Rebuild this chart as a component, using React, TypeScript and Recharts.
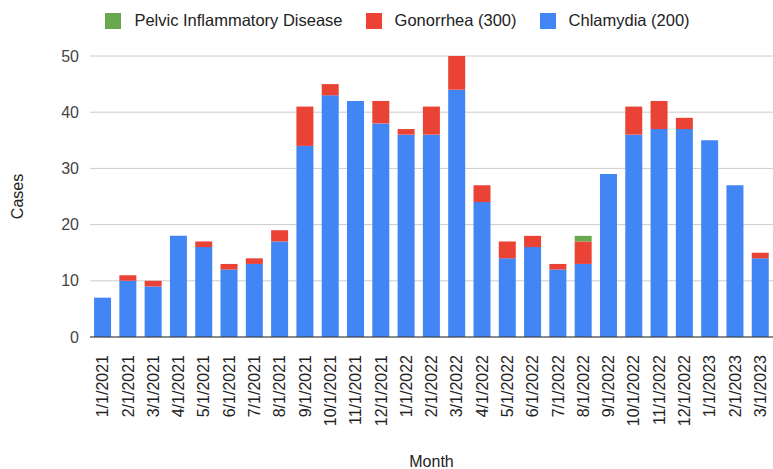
import { BarChart, Bar, XAxis, YAxis, CartesianGrid } from "recharts";

const months = [
  "1/1/2021", "2/1/2021", "3/1/2021", "4/1/2021", "5/1/2021", "6/1/2021", "7/1/2021",
  "8/1/2021", "9/1/2021", "10/1/2021", "11/1/2021", "12/1/2021", "1/1/2022", "2/1/2022",
  "3/1/2022", "4/1/2022", "5/1/2022", "6/1/2022", "7/1/2022", "8/1/2022", "9/1/2022",
  "10/1/2022", "11/1/2022", "12/1/2022", "1/1/2023", "2/1/2023", "3/1/2023",
];
const chlamydia = [7, 10, 9, 18, 16, 12, 13, 17, 34, 43, 42, 38, 36, 36, 44, 24, 14, 16, 12, 13, 29, 36, 37, 37, 35, 27, 14];
const gonorrhea = [0, 1, 1, 0, 1, 1, 1, 2, 7, 2, 0, 4, 1, 5, 6, 3, 3, 2, 1, 4, 0, 5, 5, 2, 0, 0, 1];
const pid = [0, 0, 0, 0, 0, 0, 0, 0, 0, 0, 0, 0, 0, 0, 0, 0, 0, 0, 0, 1, 0, 0, 0, 0, 0, 0, 0];
const yTicks = [0, 10, 20, 30, 40, 50];

const legendItems = [
  { name: "Pelvic Inflammatory Disease", color: "#6aa84f" },
  { name: "Gonorrhea (300)", color: "#ea4335" },
  { name: "Chlamydia (200)", color: "#4285f4" },
];

const FONT = "'Liberation Sans', Arial, sans-serif";

const data = months.map((m, i) => ({
  month: m,
  chlamydia: chlamydia[i],
  gonorrhea: gonorrhea[i],
  pid: pid[i],
}));

const MonthTick = (props: any) => {
  const { x, y, payload } = props;
  return (
    <g transform={`translate(${x},${y + 10})`}>
      <text
        x={0}
        y={0}
        dy="0.35em"
        transform="rotate(-90)"
        textAnchor="end"
        fontSize={16}
        fontFamily={FONT}
        fill="#222"
      >
        {payload.value}
      </text>
    </g>
  );
};

// legend is centred over the plot area, not the whole chart
const TopLegend = () => (
  <div
    style={{
      position: "absolute",
      top: 11,
      left: 11,
      width: 773,
      display: "flex",
      justifyContent: "center",
      fontFamily: FONT,
      fontSize: 16.5,
      color: "#222",
    }}
  >
    {legendItems.map((item) => (
      <div key={item.name} style={{ display: "flex", alignItems: "center", margin: "0 11.5px" }}>
        <span style={{ width: 16, height: 16, background: item.color, display: "inline-block", marginRight: 13 }} />
        <span>{item.name}</span>
      </div>
    ))}
  </div>
);

export default function App() {
  return (
    <div style={{ position: "absolute", top: 0, left: 0, width: 773, height: 469, background: "#fff", overflow: "hidden" }}>
      <BarChart
        width={773}
        height={469}
        data={data}
        margin={{ top: 56, right: 0, left: 0, bottom: 0 }}
        barCategoryGap="16%"
      >
        <CartesianGrid vertical={false} stroke="#cccccc" />
        <XAxis
          dataKey="month"
          interval={0}
          height={132}
          tickLine={false}
          axisLine={{ stroke: "#333333" }}
          tick={<MonthTick />}
          label={{ value: "Month", position: "insideBottom", offset: 2, fontSize: 16, fontFamily: FONT, fill: "#222" }}
        />
        <YAxis
          width={90}
          domain={[0, 50]}
          ticks={yTicks}
          tickLine={false}
          axisLine={false}
          tickSize={0}
          tickMargin={11}
          tick={{ fontSize: 16, fontFamily: FONT, fill: "#444" }}
          label={{ value: "Cases", angle: -90, position: "insideLeft", offset: 17, fontSize: 16, fontFamily: FONT, fill: "#222", style: { textAnchor: "middle" } }}
        />
        <Bar dataKey="chlamydia" stackId="a" fill="#4285f4" isAnimationActive={false} />
        <Bar dataKey="gonorrhea" stackId="a" fill="#ea4335" isAnimationActive={false} />
        <Bar dataKey="pid" stackId="a" fill="#6aa84f" isAnimationActive={false} />
      </BarChart>
      <TopLegend />
    </div>
  );
}
